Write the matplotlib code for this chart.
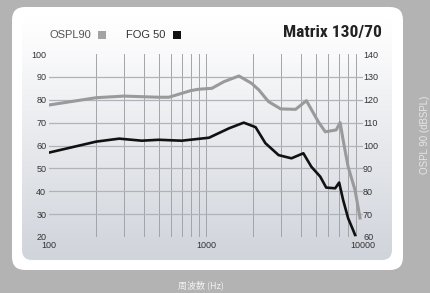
import numpy as np
import matplotlib
matplotlib.use("Agg")
import matplotlib.pyplot as plt
from matplotlib import font_manager
from matplotlib.patches import FancyBboxPatch, Rectangle
from matplotlib.colors import LinearSegmentedColormap

# values
ospl_freq = [100, 200, 300, 500, 580, 800, 900, 1090, 1300, 1620, 1950, 2170, 2500,
             2990, 3720, 4360, 5190, 5750, 6750, 7150, 7470, 8040, 8900, 9570]
ospl_vals = [117.7, 120.9, 121.6, 121.1, 121.1, 124.0, 124.6, 125.0, 127.9, 130.4, 127.2,
             124.3, 119.2, 116.0, 115.8, 119.6, 110.4, 106.0, 106.8, 110.0, 102.4, 90.7,
             80.5, 68.3]
fog_freq = [100, 200, 280, 390, 500, 700, 1045, 1400, 1740, 2070, 2390, 2900, 3500,
            4170, 4690, 5340, 5830, 6650, 7050, 7470, 8040, 8640, 8900]
fog_vals = [56.9, 61.7, 63.0, 62.1, 62.5, 62.1, 63.4, 67.5, 70.0, 68.0, 61.0, 55.8, 54.4,
            56.6, 50.7, 46.4, 41.6, 41.3, 43.8, 36.2, 28.2, 23.1, 20.9]
left_ticks = [20, 30, 40, 50, 60, 70, 80, 90, 100]
right_ticks = [60, 70, 80, 90, 100, 110, 120, 130, 140]
x_ticks = [100, 1000, 10000]
x_grid = [200, 300, 400, 500, 600, 700, 800, 900, 1000,
          2000, 3000, 4000, 5000, 6000, 7000, 8000, 9000]

# pick a condensed face for the title if one is around
names = {f.name for f in font_manager.fontManager.ttflist}
title_font, title_size = "Liberation Sans", 10.5
for cand in ["Liberation Sans Narrow", "Roboto Condensed", "Open Sans Condensed",
             "Noto Sans Condensed", "DejaVu Sans Condensed"]:
    if cand in names:
        title_font, title_size = cand, 12.5
        break

W, H = 430, 293
fig = plt.figure(figsize=(W / 100, H / 100), dpi=100)
fig.patch.set_facecolor("#b3b3b3")

# background in pixel coords
bg = fig.add_axes([0, 0, 1, 1], zorder=-10)
bg.set_xlim(0, W)
bg.set_ylim(H, 0)
bg.axis("off")
card = FancyBboxPatch((12, 7), 391, 263, boxstyle="round,pad=0,rounding_size=13",
                      fc="white", ec="none", zorder=1)
bg.add_patch(card)
panel = FancyBboxPatch((22, 16), 370, 244, boxstyle="round,pad=0,rounding_size=10",
                       fc="none", ec="none", zorder=1)
bg.add_patch(panel)
cmap = LinearSegmentedColormap.from_list("g", [(0, "#ffffff"), (0.12, "#fbfbfc"),
                                               (1, "#d0d4db")])
grad = np.linspace(0, 1, 200).reshape(-1, 1)
im = bg.imshow(grad, extent=[22, 392, 260, 16], cmap=cmap, aspect="auto", zorder=2)
im.set_clip_path(panel)
bg.set_xlim(0, W)
bg.set_ylim(H, 0)

# legend / title
lfont = ["Liberation Sans", "DejaVu Sans"]
bg.text(50, 35, "OSPL90", fontsize=8, color="#555555", va="center", family=lfont, zorder=5)
bg.add_patch(Rectangle((98, 31), 8, 8, fc="#a3a3a3", ec="none", zorder=5))
bg.text(126, 35, "FOG 50", fontsize=8, color="#333333", va="center", family=lfont, zorder=5)
bg.add_patch(Rectangle((173, 31), 8, 8, fc="#111111", ec="none", zorder=5))
bg.text(382, 33, "Matrix 130/70", fontsize=title_size, fontweight="bold", color="#222222",
        ha="right", va="center", family=[title_font, "DejaVu Sans"], zorder=5)
bg.text(201, 285, "周波数 (Hz)", fontsize=6.5, color="#f2f2f2", ha="center", va="center",
        family=["Noto Sans CJK JP", "DejaVu Sans"], zorder=5)
bg.text(425, 135, "OSPL 90 (dBSPL)", fontsize=7, color="#e6e6e6", ha="center",
        va="center", rotation=90, family=lfont, zorder=5)

# chart
x0, x1, y0, y1 = 49, 363, 54, 237
ax = fig.add_axes([x0 / W, (H - y1) / H, (x1 - x0) / W, (y1 - y0) / H])
ax.set_facecolor("none")
ax.set_xscale("log")
ax.set_xlim(100, 10000)
ax.set_ylim(20, 100)
for s in ax.spines.values():
    s.set_visible(False)
ax.set_xticks(x_ticks)
ax.set_xticklabels([str(v) for v in x_ticks])
ax.xaxis.set_minor_locator(matplotlib.ticker.NullLocator())
ax.set_yticks(left_ticks)
ax.tick_params(length=0, labelsize=6.5, labelcolor="#333333")
ax.tick_params(axis="y", pad=2)
ax.tick_params(axis="x", pad=3)
for lab in ax.get_xticklabels() + ax.get_yticklabels():
    lab.set_family(lfont)

for f in x_grid:
    ax.axvline(f, color="#a2a4a8", lw=0.7, zorder=1)
for v in left_ticks[1:-1]:
    ax.axhline(v, color="#b0b4ba", lw=0.9, zorder=1)

ax2 = ax.twinx()
ax2.set_ylim(60, 140)
ax2.set_yticks(right_ticks)
for s in ax2.spines.values():
    s.set_visible(False)
ax2.tick_params(length=0, labelsize=6.5, labelcolor="#333333", pad=0)
for lab in ax2.get_yticklabels():
    lab.set_family(lfont)

ax2.plot(ospl_freq, ospl_vals, color="#9a9a9a", lw=2.2, solid_joinstyle="round", zorder=3)
ax.plot(fog_freq, fog_vals, color="#111111", lw=1.9, solid_joinstyle="round", zorder=3)

fig.savefig("out.png", dpi=100, facecolor=fig.get_facecolor())
